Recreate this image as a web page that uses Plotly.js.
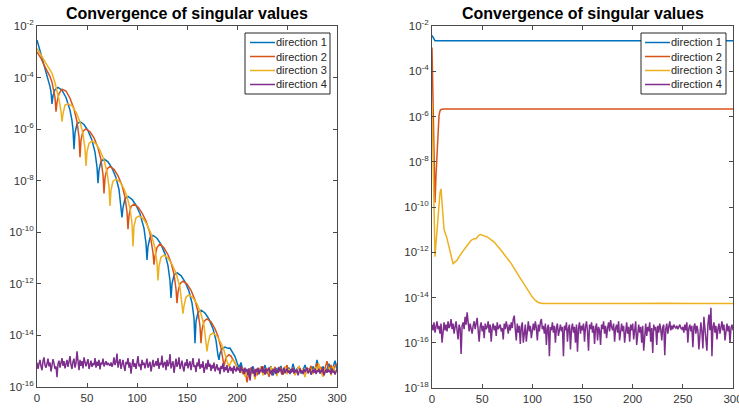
<!DOCTYPE html>
<html>
<head>
<meta charset="utf-8">
<script src="https://cdn.plot.ly/plotly-3.0.1.min.js"></script>
<style>html,body{margin:0;padding:0;background:#fff;}#chart{width:739px;height:410px;}</style>
</head>
<body>
<div id="chart"></div>
<script>
// ---------- DATA (log10 of singular value estimates) ----------
const legendLabels = ['direction 1', 'direction 2', 'direction 3', 'direction 4'];
const titleText = 'Convergence of singular values';
const xTickVals = [0, 50, 100, 150, 200, 250, 300];
const yTickExpLeft = [-2, -4, -6, -8, -10, -12, -14, -16];
const yTickExpRight = [-2, -4, -6, -8, -10, -12, -14, -16, -18];

// Left panel, direction 1 (decaying part)
const leftD1X = [0,3,6,9,11,13,14,15, 16,18,21,25,29,33,35,36,37, 38,40,43,47,51,55,58,60,61, 62,64,67,71,75,79,82,84,85, 86,88,91,95,99,103,107,109,110, 111,113,116,120,124,128,131,133,134, 135,137,140,144,148,152,155,157,158, 159,161,164,168,172,176,179,181,182, 183,185,188,191,193,196,198,200];
const leftD1Y = [-2.54,-2.95,-3.35,-3.72,-4.0,-4.35,-4.55,-5.02, -4.70,-4.47,-4.38,-4.49,-4.77,-5.26,-5.67,-6.02,-6.78, -6.14,-5.80,-5.71,-5.82,-6.06,-6.43,-6.89,-7.47,-8.10, -7.59,-7.25,-7.16,-7.27,-7.51,-7.88,-8.34,-8.92,-9.42, -9.04,-8.70,-8.61,-8.72,-8.95,-9.28,-9.85,-10.43,-11.07, -10.55,-10.21,-10.12,-10.23,-10.47,-10.84,-11.29,-11.88,-12.55, -12.00,-11.66,-11.57,-11.68,-11.92,-12.29,-12.74,-13.33,-14.30, -13.45,-13.11,-13.02,-13.13,-13.37,-13.74,-14.19,-14.78,-14.95, -14.70,-14.52,-14.45,-14.50,-14.49,-14.70,-14.82,-15.05];
// Left panel, direction 2
const leftD2X = [0,4,7,10,13,15,17,18,19, 20,22,25,29,33,37,40,42,43, 44,46,49,53,57,61,64,66,67, 68,70,73,77,81,85,88,90,91, 92,94,97,101,105,109,113,115,116,117, 118,120,123,127,131,134,137,139,140, 141,143,146,150,154,158,161,163,164, 165,167,170,174,178,181,184,186,187, 189,192,194,197,200];
const leftD2Y = [-3.00,-3.25,-3.51,-3.72,-3.96,-4.18,-4.50,-4.78,-5.32, -4.96,-4.62,-4.45,-4.52,-4.80,-5.22,-5.71,-6.30,-7.09, -6.42,-6.08,-5.99,-6.10,-6.34,-6.72,-7.18,-7.76,-8.49, -7.88,-7.54,-7.45,-7.56,-7.81,-8.18,-8.64,-9.22,-9.88, -9.34,-9.00,-8.91,-9.02,-9.25,-9.56,-10.04,-10.45,-10.80,-11.26, -10.92,-10.59,-10.45,-10.61,-10.87,-11.17,-11.62,-12.20,-12.75, -12.32,-11.99,-11.90,-12.01,-12.25,-12.63,-13.08,-13.66,-14.30, -13.79,-13.45,-13.36,-13.47,-13.74,-14.03,-14.48,-14.95,-15.20, -14.85,-14.75,-14.80,-15.00,-15.20];
// Left panel, direction 3
const leftD3X = [0,5,10,15,18,20,22,24,25, 26,28,31,35,39,43,46,48,49, 50,52,55,59,63,67,70,72,73, 74,76,79,83,87,90,93,95,96, 97,99,102,106,110,114,118,120,121, 122,124,127,131,135,139,143,145,146, 147,149,152,156,160,164,167,169,170, 171,173,176,180,184,187,190,192, 195,198,200];
const leftD3Y = [-2.87,-3.20,-3.50,-3.83,-4.20,-4.48,-4.85,-5.30,-5.71, -5.41,-5.07,-5.02,-5.10,-5.34,-5.72,-6.18,-6.76,-7.43, -6.88,-6.55,-6.46,-6.57,-6.82,-7.20,-7.65,-8.24,-8.98, -8.36,-8.02,-7.94,-8.05,-8.31,-8.61,-9.07,-9.65,-10.55, -9.77,-9.44,-9.37,-9.46,-9.70,-10.05,-10.61,-11.19,-11.87, -11.31,-10.97,-10.89,-11.00,-11.24,-11.58,-12.14,-12.73,-13.16, -12.85,-12.51,-12.43,-12.54,-12.78,-13.16,-13.62,-14.20,-14.62, -14.33,-13.99,-13.90,-14.03,-14.30,-14.58,-15.00,-15.20, -14.95,-15.05,-15.25];

// Left panel noise-floor tails (x = 202, 204, ..., 300)
const tailStartX = 202;
const leftD1Tail = [-15.25,-15.05,-15.40,-15.55,-15.30,-15.60,-15.35,-15.20,-15.45,-15.30,
 -15.50,-15.25,-15.40,-15.15,-15.48,-15.32,-15.20,-15.55,-15.35,-15.28,
 -15.42,-15.18,-15.50,-15.30,-15.38,-15.25,-15.45,-15.10,-15.40,-15.30,
 -15.22,-15.48,-15.35,-15.15,-15.42,-15.28,-15.50,-15.20,-15.38,-14.95,
 -15.32,-15.45,-15.20,-15.40,-15.30,-15.10,-15.35,-15.25,-14.98,-15.30];
const leftD2Tail = [-15.35,-15.20,-15.50,-15.30,-15.82,-15.40,-15.25,-15.45,-15.32,-15.55,
 -15.28,-15.42,-15.20,-15.50,-15.35,-15.60,-15.30,-15.40,-15.22,-15.48,
 -15.35,-15.25,-15.52,-15.30,-15.15,-15.45,-15.38,-15.28,-15.50,-15.32,
 -15.20,-15.42,-15.30,-15.55,-15.25,-15.38,-15.18,-15.45,-15.30,-15.08,
 -15.40,-15.22,-15.50,-15.28,-15.00,-15.35,-15.15,-15.42,-15.20,-15.10];
const leftD3Tail = [-15.30,-15.45,-15.25,-15.60,-15.38,-15.28,-15.50,-15.35,-15.70,-15.30,
 -15.42,-15.20,-15.55,-15.35,-15.28,-15.48,-15.22,-15.40,-15.32,-15.58,
 -15.25,-15.45,-15.38,-15.20,-15.50,-15.30,-15.42,-15.26,-15.55,-15.35,
 -15.18,-15.45,-15.30,-15.62,-15.25,-15.40,-15.32,-15.50,-15.22,-15.38,
 -15.10,-15.45,-15.60,-15.30,-15.40,-15.25,-15.55,-15.20,-15.42,-15.35];

// Left panel, direction 4 (x = 0..300)
const leftD4 = [
 -15.05,-15.30,-15.10,-14.95,-15.20,-15.35,-15.00,-14.85,-15.15,-15.25,
 -15.10,-14.90,-15.20,-15.05,-15.40,-15.15,-14.92,-15.08,-15.30,-15.20,
 -15.62,-15.10,-14.98,-15.25,-15.05,-14.88,-15.18,-15.00,-15.28,-15.12,
 -14.95,-15.22,-15.05,-14.80,-15.15,-15.30,-15.02,-14.90,-15.25,-15.08,
 -14.62,-15.10,-15.35,-14.95,-15.18,-15.00,-15.28,-14.85,-15.12,-15.20,
 -15.05,-14.92,-15.30,-15.10,-14.98,-15.22,-15.08,-15.15,-14.88,-15.25,
 -15.02,-15.18,-14.95,-15.32,-15.05,-15.12,-14.90,-15.20,-15.10,-15.00,
 -15.15,-15.08,-15.12,-15.18,-15.05,-15.22,-15.10,-14.85,-15.15,-15.02,
 -14.70,-15.25,-15.05,-14.92,-15.30,-15.10,-14.95,-15.20,-15.38,-15.02,
 -15.12,-14.88,-15.25,-15.05,-15.48,-15.15,-14.92,-15.22,-15.08,-15.30,
 -15.00,-14.80,-15.20,-15.10,-15.35,-14.95,-15.15,-15.05,-15.28,-15.10,
 -14.90,-15.25,-15.12,-15.02,-15.40,-15.08,-14.95,-15.22,-15.15,-15.00,
 -15.18,-14.88,-15.30,-15.05,-15.15,-14.78,-15.25,-15.10,-15.02,-15.35,
 -14.95,-15.20,-15.08,-14.72,-15.28,-15.12,-15.00,-15.45,-15.05,-14.90,
 -15.22,-15.10,-14.85,-15.30,-15.15,-14.98,-15.25,-15.40,-15.05,-15.18,
 -14.92,-15.28,-15.12,-15.00,-15.35,-15.08,-14.88,-15.22,-15.15,-15.42,
 -15.05,-15.20,-14.90,-15.30,-15.12,-15.25,-15.00,-15.45,-15.18,-15.08,
 -15.32,-14.95,-15.22,-15.10,-15.38,-15.15,-15.28,-15.05,-15.40,-15.20,
 -15.12,-15.35,-15.25,-15.50,-15.18,-15.30,-15.08,-15.42,-15.22,-15.35,
 -15.15,-15.45,-15.28,-15.20,-15.38,-15.25,-15.48,-15.18,-15.32,-15.40,
 -15.22,-15.35,-15.28,-15.45,-15.18,-15.38,-15.30,-15.50,-15.25,-15.40,
 -15.32,-15.55,-15.28,-15.75,-15.40,-15.22,-15.48,-15.35,-15.60,-15.30,
 -15.42,-15.25,-15.50,-15.35,-15.38,-15.20,-15.45,-15.30,-15.52,-15.28,
 -15.40,-15.33,-15.25,-15.48,-15.36,-15.55,-15.30,-15.42,-15.28,-15.50,
 -15.35,-15.45,-15.22,-15.38,-15.30,-15.52,-15.40,-15.25,-15.46,-15.33,
 -15.28,-15.44,-15.36,-15.50,-15.30,-15.42,-15.26,-15.48,-15.35,-15.40,
 -15.32,-15.55,-15.38,-15.28,-15.45,-15.36,-15.50,-15.30,-15.42,-15.34,
 -15.26,-15.47,-15.38,-15.30,-15.52,-15.40,-15.33,-15.45,-15.28,-15.50,
 -15.36,-15.42,-15.30,-15.48,-15.35,-15.40,-15.26,-15.55,-15.38,-15.32,
 -15.45,-15.30,-15.42,-15.36,-15.50,-15.28,-15.44,-15.38,-15.52,-15.35,
 -15.30];

// Right panel
const rightD1X = [0, 1, 3, 300];
const rightD1Y = [-2.42, -2.50, -2.65, -2.65];
const rightD2X = [0, 1, 2, 3, 4, 5, 6, 7, 8, 9, 12, 300];
const rightD2Y = [-2.95, -5.20, -7.80, -9.80, -8.60, -7.60, -6.50, -5.95, -5.75, -5.69, -5.67, -5.67];
const rightD3X = [0,1,2,3,4,5,6,7,8,9,10,11,12,14.5,17,21,25,29,35,39,42,44,46,48,55,62,70,79,87,95,100,103,106,110,130,160,200,230,260,290,300];
const rightD3Y = [-5.40,-7.50,-10.00,-12.20,-11.60,-11.00,-10.40,-9.85,-9.35,-9.20,-9.80,-10.70,-11.00,-11.32,-11.80,-12.50,-12.35,-12.06,-11.70,-11.47,-11.40,-11.40,-11.28,-11.22,-11.32,-11.55,-11.98,-12.50,-13.08,-13.65,-13.98,-14.13,-14.22,-14.26,-14.27,-14.26,-14.27,-14.25,-14.27,-14.26,-14.27];
const rightD4 = [
 -15.20,-15.45,-15.10,-15.55,-15.30,-15.05,-15.40,-15.25,-15.60,-15.15,
 -16.00,-15.30,-15.10,-15.45,-15.20,-15.50,-15.05,-15.35,-15.25,-14.95,
 -15.40,-15.15,-15.60,-15.30,-15.05,-15.45,-15.85,-15.20,-15.35,-16.50,
 -15.25,-15.10,-15.40,-14.85,-15.20,-14.65,-15.30,-15.50,-15.15,-15.35,
 -15.60,-15.25,-15.05,-15.40,-15.20,-14.90,-15.45,-15.95,-15.30,-15.10,
 -15.50,-15.25,-15.80,-15.15,-15.40,-15.30,-15.05,-15.55,-15.20,-15.95,
 -15.35,-15.15,-15.45,-15.25,-15.70,-15.10,-15.40,-15.30,-15.20,-15.50,
 -15.35,-15.85,-15.15,-15.40,-15.05,-15.30,-15.60,-15.20,-15.45,-15.10,
 -15.35,-14.95,-14.80,-15.40,-15.90,-15.15,-15.55,-15.25,-16.05,-15.30,
 -15.10,-16.00,-15.40,-15.20,-15.95,-15.35,-15.05,-15.50,-15.25,-15.80,
 -15.30,-15.15,-15.45,-15.05,-15.35,-15.90,-15.20,-15.50,-15.10,-14.95,
 -15.40,-15.25,-15.60,-15.15,-16.10,-15.35,-15.20,-16.60,-15.30,-15.45,
 -15.10,-15.55,-15.25,-16.00,-15.35,-15.15,-15.70,-15.40,-15.20,-15.50,
 -15.30,-16.60,-15.25,-15.45,-15.10,-15.95,-15.35,-15.20,-16.30,-15.40,
 -15.15,-15.55,-15.30,-16.00,-15.20,-16.40,-15.35,-15.10,-15.60,-15.25,
 -15.45,-15.15,-15.95,-15.30,-15.05,-15.50,-16.35,-15.20,-15.40,-15.10,
 -15.55,-15.25,-16.05,-15.35,-15.15,-15.90,-15.30,-15.45,-16.10,-15.20,
 -15.40,-15.05,-15.60,-15.25,-15.80,-15.35,-15.10,-15.50,-15.00,-15.30,
 -15.45,-15.15,-15.95,-15.35,-15.20,-15.55,-15.05,-15.90,-15.30,-15.15,
 -15.50,-15.25,-16.00,-15.40,-15.10,-15.60,-15.30,-15.95,-15.20,-15.45,
 -15.15,-15.85,-15.35,-15.05,-16.10,-15.40,-15.20,-15.55,-15.30,-16.00,
 -15.25,-16.35,-15.40,-15.15,-15.70,-15.30,-15.50,-15.10,-15.95,-15.35,
 -16.45,-15.20,-15.45,-15.30,-16.10,-15.25,-15.55,-15.15,-15.40,-15.90,
 -15.30,-15.20,-16.55,-15.40,-15.15,-15.60,-15.30,-15.05,-15.45,-15.25,
 -15.40,-15.20,-15.30,-15.35,-15.25,-15.40,-15.30,-15.20,-15.35,-15.40,
 -15.30,-15.55,-15.20,-15.45,-15.10,-16.00,-15.35,-15.20,-15.50,-15.25,
 -16.20,-15.30,-15.15,-15.60,-15.25,-15.45,-16.30,-15.35,-15.10,-15.50,
 -16.25,-14.85,-15.40,-15.60,-16.35,-15.20,-14.75,-15.45,-14.45,-16.60,
 -15.30,-15.10,-15.55,-15.25,-15.85,-15.40,-15.15,-15.60,-15.30,-15.05,
 -15.45,-15.20,-15.90,-15.35,-15.15,-15.50,-15.25,-16.00,-15.35,-15.20,
 -15.45];

// ---------- BUILD ----------
const colors = ['#0072BD', '#D95319', '#EDB120', '#7E2F8E'];
const pow = a => a.map(v => Math.pow(10, v));
const idx = (a, start, step) => a.map((_, i) => start + i * step);

const lx = [
  leftD1X.concat(idx(leftD1Tail, tailStartX, 2)),
  leftD2X.concat(idx(leftD2Tail, tailStartX, 2)),
  leftD3X.concat(idx(leftD3Tail, tailStartX, 2)),
  idx(leftD4, 0, 1)
];
const ly = [
  leftD1Y.concat(leftD1Tail),
  leftD2Y.concat(leftD2Tail),
  leftD3Y.concat(leftD3Tail),
  leftD4
];
const rx = [rightD1X, rightD2X, rightD3X, idx(rightD4, 0, 1)];
const ry = [rightD1Y, rightD2Y, rightD3Y, rightD4];

const traces = [];
for (let i = 0; i < 4; i++) {
  traces.push({x: lx[i], y: pow(ly[i]), type: 'scatter', mode: 'lines', name: legendLabels[i],
    line: {color: colors[i], width: 1.5}, xaxis: 'x', yaxis: 'y', showlegend: false, hoverinfo: 'skip'});
}
for (let i = 0; i < 4; i++) {
  traces.push({x: rx[i], y: pow(ry[i]), type: 'scatter', mode: 'lines', name: legendLabels[i],
    line: {color: colors[i], width: 1.5}, xaxis: 'x2', yaxis: 'y2', showlegend: false, hoverinfo: 'skip'});
}

const W = 739, H = 410;
const px = v => v / W, py = v => 1 - v / H;
const axColor = '#4a4a4a';
function xAxis(dom, anchor) {
  return {domain: dom, anchor: anchor, range: [0, 300], tickvals: xTickVals, ticks: 'inside', ticklen: 4,
    tickcolor: axColor, showline: true, linecolor: axColor, linewidth: 1, mirror: 'ticks',
    showgrid: false, zeroline: false, ticklabeloverflow: 'allow', tickfont: {size: 11.5, color: '#333'}};
}
function yAxis(dom, anchor, exps) {
  return {domain: dom, anchor: anchor, type: 'log', range: [exps[exps.length - 1], exps[0]],
    tickvals: exps.map(e => Math.pow(10, e)), ticktext: exps.map(e => '10<sup>' + e + '</sup>'),
    ticks: 'inside', ticklen: 4, tickcolor: axColor, showline: true, linecolor: axColor, linewidth: 1,
    mirror: 'ticks', showgrid: false, zeroline: false, tickfont: {size: 11.5, color: '#333'}};
}

const shapes = [], annotations = [];
function addLegend(left, right, lineX0, lineX1, textX) {
  const top = 33, bottom = 94, rows = [42.5, 56.5, 70.5, 84.5];
  shapes.push({type: 'rect', xref: 'paper', yref: 'paper', x0: px(left), x1: px(right), y0: py(bottom), y1: py(top),
    line: {color: '#262626', width: 1}, fillcolor: '#ffffff', layer: 'above'});
  for (let i = 0; i < 4; i++) {
    shapes.push({type: 'line', xref: 'paper', yref: 'paper', x0: px(lineX0), x1: px(lineX1), y0: py(rows[i]), y1: py(rows[i]),
      line: {color: colors[i], width: 1.5}, layer: 'above'});
    annotations.push({text: legendLabels[i], xref: 'paper', yref: 'paper', x: px(textX), y: py(rows[i]),
      xanchor: 'left', yanchor: 'middle', showarrow: false, font: {size: 11, color: '#262626'}});
  }
}
addLegend(245, 330, 250, 275, 274);
addLegend(641, 726, 645, 670, 669);

annotations.push({text: '<b>' + titleText + '</b>', xref: 'paper', yref: 'paper', x: px(187), y: py(13),
  xanchor: 'center', yanchor: 'middle', showarrow: false, font: {size: 16, color: '#000'}});
annotations.push({text: '<b>' + titleText + '</b>', xref: 'paper', yref: 'paper', x: px(582.5), y: py(13),
  xanchor: 'center', yanchor: 'middle', showarrow: false, font: {size: 16, color: '#000'}});

const layout = {
  width: W, height: H, margin: {l: 0, r: 0, t: 0, b: 0},
  paper_bgcolor: '#ffffff', plot_bgcolor: '#ffffff', showlegend: false,
  font: {family: 'Liberation Sans, Arial, Helvetica, sans-serif', size: 11, color: '#333'},
  xaxis: xAxis([px(37), px(337)], 'y'),
  yaxis: yAxis([1 - 387 / H, 1 - 26 / H], 'x', yTickExpLeft),
  xaxis2: xAxis([px(432), px(733)], 'y2'),
  yaxis2: yAxis([1 - 388 / H, 1 - 26 / H], 'x2', yTickExpRight),
  shapes: shapes, annotations: annotations
};

Plotly.newPlot('chart', traces, layout, {staticPlot: true, displayModeBar: false});
</script>
</body>
</html>
